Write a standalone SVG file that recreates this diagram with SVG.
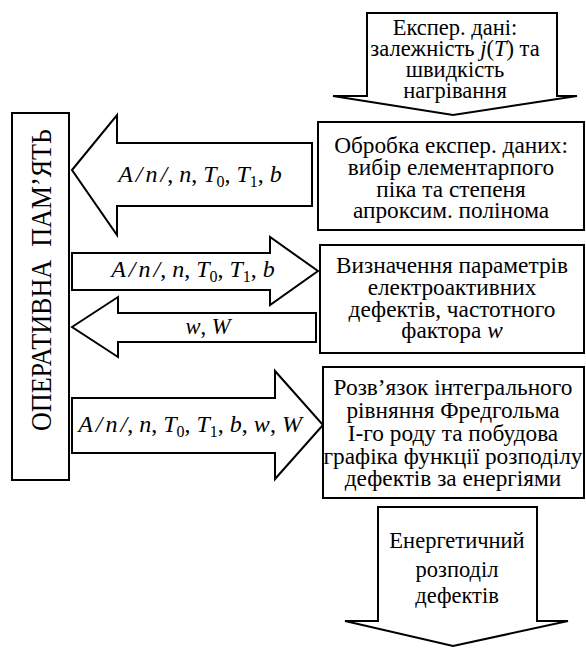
<svg xmlns="http://www.w3.org/2000/svg" width="586" height="651" viewBox="0 0 586 651">
<style>
.t{font-family:"Liberation Serif","Times New Roman",serif;font-size:23.3px;fill:#000;text-anchor:middle}
.a{font-size:22.5px}
.l{font-size:24px}
.i{font-style:italic}
.s{font-size:16px;font-style:normal}
.sh{fill:#fff;stroke:#000;stroke-width:2;stroke-linejoin:miter}
.v{font-family:"Liberation Serif","Times New Roman",serif;font-size:29px;fill:#000;text-anchor:middle}
</style>
<rect width="586" height="651" fill="#fff"/>
<g id="connectors">
  <g id="arrow-input">
    <path class="sh" d="M367,13 H557 V96 H577 L453,115 L333,96 H367 Z"/>
    <text class="t a" x="455" y="35">Експер. дані:</text>
    <text class="t a" x="455" y="56">залежність <tspan class="i">j</tspan>(<tspan class="i">T</tspan>) та</text>
    <text class="t a" x="455" y="77">швидкість</text>
    <text class="t a" x="455" y="98">нагрівання</text>
  </g>
  <g id="arrow-to-mem-1">
    <path class="sh" d="M72,170 L117,115 V143 H312 V206 H117 V235 Z"/>
    <text class="t l" x="200" y="182"><tspan class="i">A</tspan><tspan class="i" dx="3">/</tspan><tspan class="i" dx="3">n</tspan><tspan class="i" dx="3">/</tspan>, <tspan class="i">n</tspan>, <tspan class="i">T</tspan><tspan class="s" dy="5">0</tspan><tspan dy="-5">, </tspan><tspan class="i">T</tspan><tspan class="s" dy="5">1</tspan><tspan dy="-5">, </tspan><tspan class="i">b</tspan></text>
  </g>
  <g id="arrow-from-mem-1">
    <path class="sh" d="M72,253 H270 V237 L318,271 L270,305 V290 H72 Z"/>
    <text class="t l" x="193" y="277"><tspan class="i">A</tspan><tspan class="i" dx="3">/</tspan><tspan class="i" dx="3">n</tspan><tspan class="i" dx="3">/</tspan>, <tspan class="i">n</tspan>, <tspan class="i">T</tspan><tspan class="s" dy="5">0</tspan><tspan dy="-5">, </tspan><tspan class="i">T</tspan><tspan class="s" dy="5">1</tspan><tspan dy="-5">, </tspan><tspan class="i">b</tspan></text>
  </g>
  <g id="arrow-to-mem-2">
    <path class="sh" d="M72,327 L118,297 V313 H316 V342 H118 V357 Z"/>
    <text class="t a" x="208" y="334"><tspan class="i">w</tspan>, <tspan class="i">W</tspan></text>
  </g>
  <g id="arrow-from-mem-2">
    <path class="sh" d="M72,398 H275 V371 L323,425 L275,479 V453 H72 Z"/>
    <text class="t l" x="190" y="432"><tspan class="i">A</tspan><tspan class="i" dx="3">/</tspan><tspan class="i" dx="3">n</tspan><tspan class="i" dx="3">/</tspan>, <tspan class="i">n</tspan>, <tspan class="i">T</tspan><tspan class="s" dy="5">0</tspan><tspan dy="-5">, </tspan><tspan class="i">T</tspan><tspan class="s" dy="5">1</tspan><tspan dy="-5">, </tspan><tspan class="i">b</tspan>, <tspan class="i">w</tspan>, <tspan class="i">W</tspan></text>
  </g>
  <g id="arrow-output">
    <path class="sh" d="M378,507 H537 V621 H568 L453,646 L345,621 H378 Z"/>
    <text class="t a" x="457" y="548">Енергетичний</text>
    <text class="t a" x="457" y="577">розподіл</text>
    <text class="t a" x="457" y="603">дефектів</text>
  </g>
</g>
<g id="memory">
  <rect class="sh" x="12" y="113" width="57" height="367"/>
  <text class="v" transform="translate(51,280) rotate(-90)" textLength="302" lengthAdjust="spacingAndGlyphs">ОПЕРАТИВНА&#160; ПАМ’ЯТЬ</text>
</g>
<g id="box-processing">
  <rect class="sh" x="318" y="122" width="266" height="108"/>
  <text class="t" x="451" y="153">Обробка експер. даних:</text>
  <text class="t" x="451" y="175">вибір елементарпого</text>
  <text class="t" x="451" y="197">піка та степеня</text>
  <text class="t" x="451" y="218">апроксим. полінома</text>
</g>
<g id="box-params">
  <rect class="sh" x="320" y="245" width="264" height="108"/>
  <text class="t" x="452" y="273">Визначення параметрів</text>
  <text class="t" x="452" y="295">електроактивних</text>
  <text class="t" x="452" y="317">дефектів, частотного</text>
  <text class="t" x="452" y="338">фактора <tspan class="i">w</tspan></text>
</g>
<g id="box-solution">
  <rect class="sh" x="323" y="367" width="261" height="131"/>
  <text class="t" x="453" y="395">Розв’язок інтегрального</text>
  <text class="t" x="453" y="418">рівняння Фредгольма</text>
  <text class="t" x="453" y="441">I-го роду та побудова</text>
  <text class="t" x="453" y="464">графіка функції розподілу</text>
  <text class="t" x="453" y="486">дефектів за енергіями</text>
</g>
</svg>
